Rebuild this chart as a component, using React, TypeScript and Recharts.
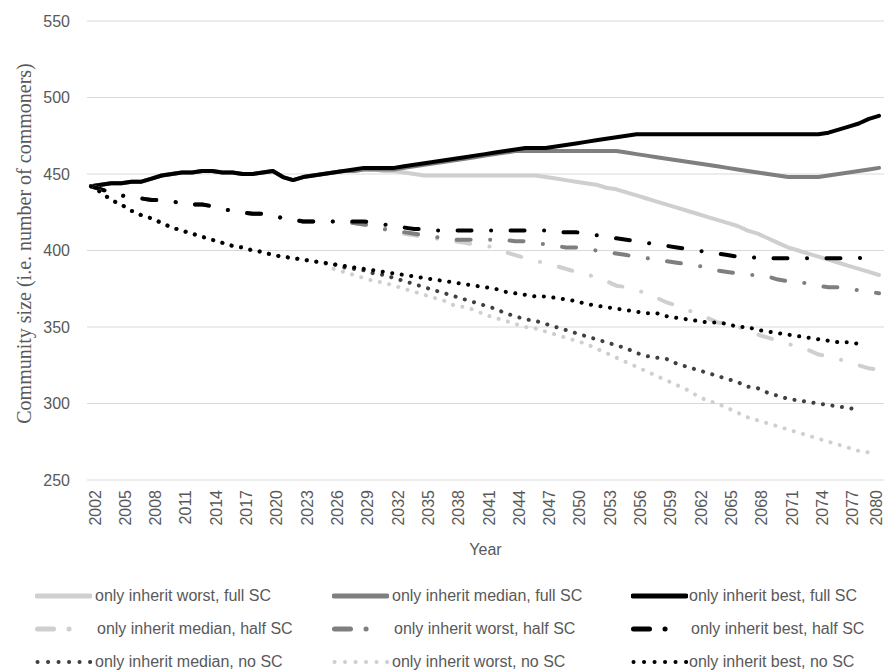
import React from 'react';
import { LineChart, Line, XAxis, YAxis, CartesianGrid, Label } from 'recharts';

const years = [
  2002, 2003, 2004, 2005, 2006, 2007, 2008, 2009, 2010, 2011, 2012, 2013, 2014, 2015, 2016, 2017, 2018, 2019, 2020,
  2021, 2022, 2023, 2024, 2025, 2026, 2027, 2028, 2029, 2030, 2031, 2032, 2033, 2034, 2035, 2036, 2037, 2038, 2039,
  2040, 2041, 2042, 2043, 2044, 2045, 2046, 2047, 2048, 2049, 2050, 2051, 2052, 2053, 2054, 2055, 2056, 2057, 2058,
  2059, 2060, 2061, 2062, 2063, 2064, 2065, 2066, 2067, 2068, 2069, 2070, 2071, 2072, 2073, 2074, 2075, 2076, 2077,
  2078, 2079, 2080,
];

const yTicks = [250, 300, 350, 400, 450, 500, 550];

// full SC
const worstFull = [
  442, 443, 444, 444, 445, 445, 447, 449, 450, 451, 451, 452, 452, 451, 451, 450, 450, 451, 452,
  448, 446, 448, 449, 450, 451, 452, 452, 453, 453, 452, 452, 451, 450, 449, 449, 449, 449, 449,
  449, 449, 449, 449, 449, 449, 449, 448, 447, 446, 445, 444, 443, 441, 440, 438, 436, 434, 432,
  430, 428, 426, 424, 422, 420, 418, 416, 413, 411, 408, 405, 402, 400, 398, 396, 394, 392, 390,
  388, 386, 384,
];
const medianFull = [
  442, 443, 444, 444, 445, 445, 447, 449, 450, 451, 451, 452, 452, 451, 451, 450, 450, 451, 452,
  448, 446, 448, 449, 450, 451, 452, 452, 453, 453, 453, 453, 454, 455, 456, 457, 458, 459, 460,
  461, 462, 463, 464, 465, 465, 465, 465, 465, 465, 465, 465, 465, 465, 465, 464, 463, 462, 461,
  460, 459, 458, 457, 456, 455, 454, 453, 452, 451, 450, 449, 448, 448, 448, 448, 449, 450, 451,
  452, 453, 454,
];
const bestFull = [
  442, 443, 444, 444, 445, 445, 447, 449, 450, 451, 451, 452, 452, 451, 451, 450, 450, 451, 452,
  448, 446, 448, 449, 450, 451, 452, 453, 454, 454, 454, 454, 455, 456, 457, 458, 459, 460, 461,
  462, 463, 464, 465, 466, 467, 467, 467, 468, 469, 470, 471, 472, 473, 474, 475, 476, 476, 476,
  476, 476, 476, 476, 476, 476, 476, 476, 476, 476, 476, 476, 476, 476, 476, 476, 477, 479, 481,
  483, 486, 488,
];

// half SC
const medianHalf = [
  442, 440, 438, 436, 435, 434, 433, 433, 432, 431, 430, 430, 429, 427, 426, 425, 424, 424, 423,
  421, 420, 419, 419, 419, 419, 419, 418, 417, 416, 414, 413, 411, 410, 409, 408, 407, 406, 405,
  404, 403, 402, 399, 397, 395, 393, 392, 390, 388, 386, 385, 382, 380, 377, 376, 374, 372, 369,
  366, 364, 361, 359, 356, 353, 352, 350, 348, 345, 343, 341, 339, 337, 335, 332, 331, 329, 327,
  325, 323, 322,
];
const worstHalf = [
  442, 440, 438, 436, 435, 434, 433, 433, 432, 431, 430, 430, 429, 427, 426, 425, 424, 424, 423,
  421, 420, 419, 419, 419, 419, 419, 418, 417, 416, 414, 413, 412, 411, 410, 409, 408, 407, 407,
  407, 407, 407, 407, 406, 406, 405, 404, 403, 402, 402, 401, 400, 399, 398, 397, 396, 395, 394,
  393, 392, 391, 390, 389, 387, 386, 385, 384, 384, 383, 381, 380, 380, 378, 377, 376, 376, 375,
  374, 373, 372,
];
const bestHalf = [
  442, 440, 438, 436, 435, 434, 433, 433, 432, 431, 430, 430, 429, 427, 426, 425, 424, 424, 423,
  421, 420, 419, 419, 419, 419, 419, 419, 419, 418, 417, 416, 415, 414, 414, 413, 413, 413, 413,
  413, 413, 413, 413, 413, 413, 413, 413, 412, 412, 412, 411, 410, 409, 408, 407, 406, 405, 404,
  403, 402, 401, 400, 399, 398, 397, 396, 396, 395, 395, 395, 395, 395, 395, 395, 395, 395, 395,
  395, 396, 397,
];

// no SC
const medianNo = [
  442, 438, 433, 430, 426, 423, 421, 418, 415, 413, 411, 409, 407, 405, 403, 402, 400, 399, 397,
  396, 395, 394, 393, 392, 391, 389, 388, 387, 385, 384, 382, 380, 378, 376, 374, 372, 370, 368,
  366, 364, 362, 359, 357, 355, 354, 352, 350, 348, 346, 344, 342, 340, 338, 336, 333, 331, 330,
  329, 326, 324, 322, 320, 318, 316, 314, 311, 310, 307, 305, 303, 302, 301, 300, 299, 298, 297,
  296, null, null,
];
const worstNo = [
  442, 438, 433, 430, 426, 423, 421, 418, 415, 413, 411, 409, 407, 405, 403, 402, 400, 399, 397,
  396, 395, 394, 393, 392, 388, 386, 384, 382, 380, 379, 377, 375, 373, 371, 369, 367, 364, 363,
  361, 358, 356, 354, 352, 350, 349, 347, 345, 343, 341, 339, 336, 333, 330, 327, 324, 321, 318,
  315, 312, 309, 305, 302, 300, 297, 294, 291, 289, 287, 285, 283, 281, 279, 277, 275, 273, 271,
  269, 268, null,
];
const bestNo = [
  442, 438, 433, 430, 426, 423, 421, 418, 415, 413, 411, 409, 407, 405, 403, 402, 400, 399, 397,
  396, 395, 394, 393, 392, 391, 390, 389, 388, 387, 386, 385, 384, 383, 382, 381, 380, 379, 378,
  377, 376, 375, 373, 372, 371, 370, 370, 369, 368, 367, 365, 364, 363, 362, 361, 360, 359, 359,
  357, 356, 355, 354, 353, 353, 352, 350, 350, 348, 347, 346, 345, 344, 343, 342, 341, 340, 340,
  339, null, null,
];

const LIGHT = '#cfcfcf';
const MID = '#7f7f7f';
const DARK = '#404040';
const BLACK = '#000000';
const TEXT = '#595959';

const SOLID = undefined;
const DASHDOT = '14 19.5 0.1 19.4';
const DOTTED = '0.1 9.5';

type S = { key: string; name: string; color: string; dash?: string; kind: 'solid' | 'dashdot' | 'dot' };

const seriesList: S[] = [
  { key: 'worstFull', name: 'only inherit worst, full SC', color: LIGHT, dash: SOLID, kind: 'solid' },
  { key: 'medianFull', name: 'only inherit median, full SC', color: MID, dash: SOLID, kind: 'solid' },
  { key: 'bestFull', name: 'only inherit best, full SC', color: BLACK, dash: SOLID, kind: 'solid' },
  { key: 'medianHalf', name: 'only inherit median, half SC', color: LIGHT, dash: DASHDOT, kind: 'dashdot' },
  { key: 'worstHalf', name: 'only inherit worst, half SC', color: MID, dash: DASHDOT, kind: 'dashdot' },
  { key: 'bestHalf', name: 'only inherit best, half SC', color: BLACK, dash: DASHDOT, kind: 'dashdot' },
  { key: 'medianNo', name: 'only inherit median, no SC', color: DARK, dash: DOTTED, kind: 'dot' },
  { key: 'worstNo', name: 'only inherit worst, no SC', color: LIGHT, dash: DOTTED, kind: 'dot' },
  { key: 'bestNo', name: 'only inherit best, no SC', color: BLACK, dash: DOTTED, kind: 'dot' },
];

const data = years.map((year, i) => ({
  year,
  worstFull: worstFull[i],
  medianFull: medianFull[i],
  bestFull: bestFull[i],
  medianHalf: medianHalf[i],
  worstHalf: worstHalf[i],
  bestHalf: bestHalf[i],
  medianNo: medianNo[i],
  worstNo: worstNo[i],
  bestNo: bestNo[i],
}));

const FONT = '"Liberation Sans", Arial, sans-serif';

const XTick = (props: any) => {
  const { x, y, payload } = props;
  const tx = Math.min(x + 4, 876);
  return (
    <text
      x={tx}
      y={y}
      transform={`rotate(-90, ${tx}, ${y})`}
      textAnchor="end"
      dominantBaseline="central"
      fill={TEXT}
      fontSize={16}
      fontFamily={FONT}
    >
      {payload.value}
    </text>
  );
};

const YTitle = (props: any) => {
  const vb = props.viewBox || {};
  const cx = 24;
  const cy = (vb.y ?? 21) + (vb.height ?? 459) / 2 - 7;
  return (
    <text
      x={cx}
      y={cy}
      transform={`rotate(-90, ${cx}, ${cy})`}
      textAnchor="middle"
      dominantBaseline="central"
      fill={TEXT}
      fontSize={20}
      fontFamily='"Liberation Serif", "Times New Roman", serif'
    >
      Community size (i.e. number of commoners)
    </text>
  );
};

const XTitle = (props: any) => {
  const vb = props.viewBox || {};
  const cx = (vb.x ?? 87) + (vb.width ?? 797) / 2;
  const cy = (vb.y ?? 480) + 69;
  return (
    <text x={cx} y={cy} textAnchor="middle" dominantBaseline="central" fill={TEXT} fontSize={16} fontFamily={FONT}>
      Year
    </text>
  );
};

const LegendSample = ({ s }: { s: S }) => {
  if (s.kind === 'solid') {
    return (
      <svg width={57} height={10} style={{ display: 'block' }}>
        <line x1={2} y1={5} x2={55} y2={5} stroke={s.color} strokeWidth={5} strokeLinecap="round" />
      </svg>
    );
  }
  if (s.kind === 'dashdot') {
    return (
      <svg width={57} height={10} style={{ display: 'block' }}>
        <line x1={2.5} y1={5} x2={55} y2={5} stroke={s.color} strokeWidth={5} strokeLinecap="round" strokeDasharray="16 15.5 0.1 100" />
      </svg>
    );
  }
  return (
    <svg width={57} height={10} style={{ display: 'block' }}>
      <line x1={2.5} y1={5} x2={56} y2={5} stroke={s.color} strokeWidth={4} strokeLinecap="round" strokeDasharray="0.1 10.4" />
    </svg>
  );
};

const colSample = [35, 332, 631];
const colText = [95, 392, 689];
const rowY = [596, 629, 662];

export default function App() {
  return (
    <div style={{ position: 'absolute', left: 0, top: 0, width: 884, height: 671, background: '#fff' }}>
      <LineChart width={884} height={671} data={data} margin={{ top: 21, right: 0, bottom: 111, left: 0 }}>
        <CartesianGrid horizontal vertical={false} stroke="#d9d9d9" strokeWidth={1} />
        <XAxis
          dataKey="year"
          type="category"
          interval={2}
          height={80}
          axisLine={false}
          tickLine={false}
          tickMargin={4}
          padding={{ left: 4, right: 5 }}
          tick={<XTick />}
        >
          <Label content={<XTitle />} />
        </XAxis>
        <YAxis
          width={87}
          domain={[250, 550]}
          ticks={yTicks}
          axisLine={false}
          tickLine={false}
          tickMargin={11}
          tick={{ fill: TEXT, fontSize: 16, fontFamily: FONT }}
        >
          <Label content={<YTitle />} />
        </YAxis>
        {seriesList.map((s) => (
          <Line
            key={s.key}
            dataKey={s.key}
            name={s.name}
            type="linear"
            stroke={s.color}
            strokeWidth={4}
            strokeDasharray={s.dash}
            strokeLinecap="round"
            strokeLinejoin="round"
            dot={false}
            activeDot={false}
            isAnimationActive={false}
          />
        ))}
      </LineChart>
      {seriesList.map((s, i) => {
        const r = Math.floor(i / 3);
        const c = i % 3;
        return (
          <React.Fragment key={s.key}>
            <div style={{ position: 'absolute', left: colSample[c], top: rowY[r] - 5 }}>
              <LegendSample s={s} />
            </div>
            <div
              style={{
                position: 'absolute',
                left: colText[c] + (s.kind === 'dashdot' ? 2 : 0),
                top: rowY[r] - 10,
                height: 20,
                lineHeight: '20px',
                fontSize: 16,
                fontFamily: FONT,
                color: TEXT,
                whiteSpace: 'nowrap',
              }}
            >
              {s.name}
            </div>
          </React.Fragment>
        );
      })}
    </div>
  );
}
